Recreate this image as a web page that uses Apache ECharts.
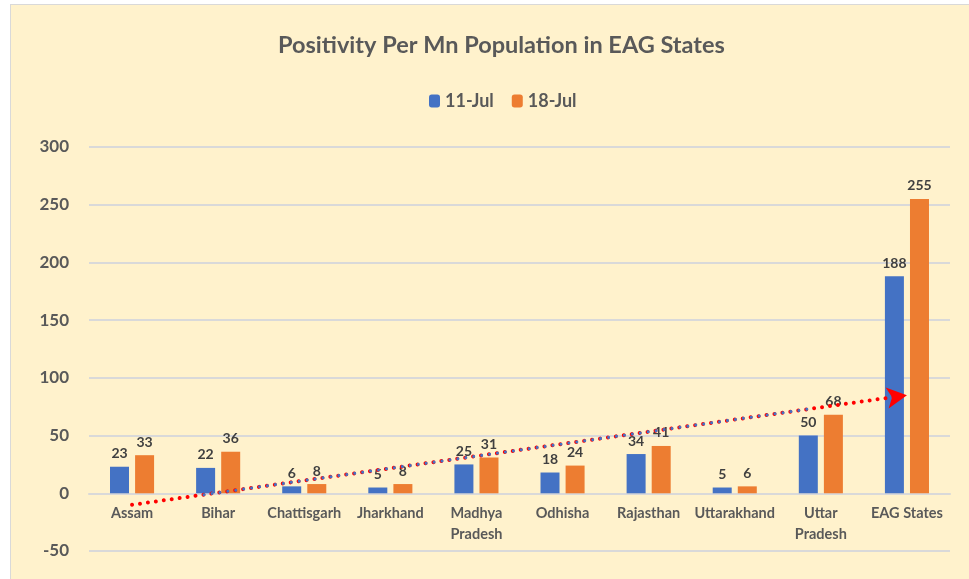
<!DOCTYPE html>
<html>
<head>
<meta charset="utf-8">
<script src="https://cdn.jsdelivr.net/npm/echarts@6/dist/echarts.min.js"></script>
<style>
  html, body { margin: 0; padding: 0; background: #fff; overflow: hidden; }
  #chart {
    position: absolute; left: 10px; top: 4px;
    width: 958px; height: 574px;
    background: #FFF2CC;
    border-left: 1px solid #d9d9d9; border-top: 1px solid #d9d9d9;
  }
</style>
</head>
<body>
<div id="chart"></div>
<script>
var categories = ['Assam', 'Bihar', 'Chattisgarh', 'Jharkhand', 'Madhya\nPradesh',
  'Odhisha', 'Rajasthan', 'Uttarakhand', 'Uttar\nPradesh', 'EAG States'];
var jul11 = [23, 22, 6, 5, 25, 18, 34, 5, 50, 188];
var jul18 = [33, 36, 8, 8, 31, 24, 41, 6, 68, 255];

// hand drawn arrow + trend dots, in (category index, value) units
var arrowStart = [0, -10];
var arrowEnd = [9, 85];
var trendStart = [0.79, -1.7];
var trendEnd = [7.9, 73.4];

var font = 'Lato';
var grey = '#595959';

var gridTop = 142, gridBottom = 28, boxH = 574;
var yMin = -50, yMax = 300;
// lift the category axis up to the zero line
var zeroOffset = -(0 - yMin) / (yMax - yMin) * (boxH - gridTop - gridBottom);

var chart = echarts.init(document.getElementById('chart'));

chart.setOption({
  backgroundColor: 'transparent',
  animation: false,
  title: {
    text: 'Positivity Per Mn Population in EAG States',
    left: 262,
    top: 23,
    textStyle: { fontFamily: font, fontWeight: 'bold', fontSize: 23.5, color: grey }
  },
  legend: {
    data: ['11-Jul', '18-Jul'],
    top: 82,
    left: 413,
    itemWidth: 11,
    itemHeight: 13,
    itemGap: 18,
    textStyle: { fontFamily: font, fontWeight: 'bold', fontSize: 18, color: grey }
  },
  grid: { left: 78, right: 19, top: gridTop, bottom: gridBottom, containLabel: false, outerBoundsMode: 'none' },
  xAxis: [{
    type: 'category',
    data: categories,
    position: 'bottom',
    offset: zeroOffset,
    axisLine: { onZero: false, lineStyle: { color: '#d9d9d9', width: 2 } },
    axisTick: { show: false },
    axisLabel: {
      margin: 10, fontFamily: font, fontWeight: 'bold', fontSize: 14.5,
      color: grey, lineHeight: 21, interval: 0
    }
  }, {
    type: 'value', min: -0.5, max: 9.5, show: false,
    axisLine: { onZero: false }
  }],
  yAxis: {
    type: 'value',
    min: yMin, max: yMax, interval: 50,
    axisLine: { show: false, onZero: false },
    axisTick: { show: false },
    splitLine: { lineStyle: { color: '#d9d9d9', width: 2 } },
    axisLabel: { margin: 20, fontFamily: font, fontWeight: 'bold', fontSize: 17, color: grey }
  },
  series: [{
    name: '11-Jul', type: 'bar', data: jul11,
    barWidth: 19, barGap: '32%',
    itemStyle: { color: '#4472C4' },
    label: { show: true, position: 'top', distance: 6, fontFamily: font, fontWeight: 'bold', fontSize: 14, color: '#404040' }
  }, {
    name: '18-Jul', type: 'bar', data: jul18,
    barWidth: 19,
    itemStyle: { color: '#ED7D31' },
    label: { show: true, position: 'top', distance: 6, fontFamily: font, fontWeight: 'bold', fontSize: 14, color: '#404040' }
  }, {
    name: 'trend', type: 'line', xAxisIndex: 1,
    data: [trendStart, trendEnd],
    symbol: 'none', silent: true,
    lineStyle: { color: '#4472C4', width: 3, type: [0.01, 8], dashOffset: 4, cap: 'round' },
    z: 5
  }, {
    name: 'arrow', type: 'line', xAxisIndex: 1,
    data: [],
    silent: true,
    markLine: {
      silent: true,
      symbol: ['none', 'arrow'],
      symbolSize: [16, 20],
      label: { show: false },
      lineStyle: { color: '#FF0000', width: 4, type: [0.01, 8], cap: 'round' },
      data: [[{ coord: arrowStart }, { coord: arrowEnd }]]
    },
    z: 6
  }]
});
</script>
</body>
</html>
